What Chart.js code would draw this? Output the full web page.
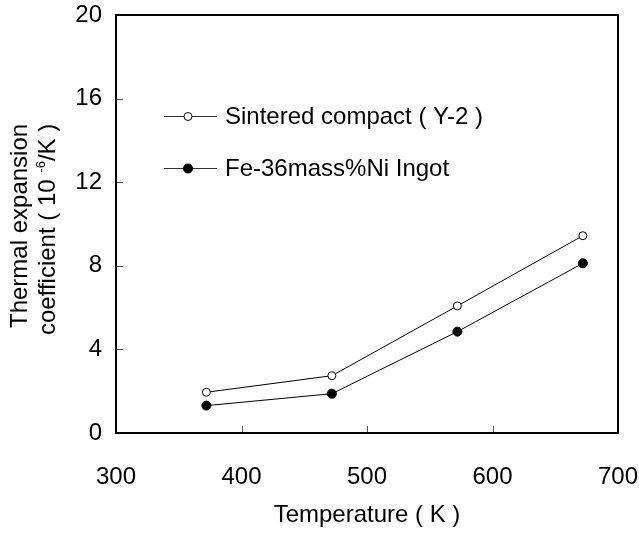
<!DOCTYPE html>
<html>
<head>
<meta charset="utf-8">
<script src="https://cdn.jsdelivr.net/npm/chart.js@4/dist/chart.umd.min.js"></script>
<style>
    html, body { margin: 0; padding: 0; background: #fff; }
    #chart_wrap { width: 639px; height: 533px; position: relative; }
</style>
</head>
<body>
<div id="chart_wrap"><canvas id="expansion_chart_area"></canvas></div>
<script>
"use strict"
// values
var temperatures = [372, 472, 572, 672];
var sinteredValues = [1.95, 2.74, 6.08, 9.44];
var ingotValues = [1.31, 1.88, 4.85, 8.12];
var seriesLabels = ["Sintered compact ( Y-2 )", "Fe-36mass%Ni Ingot"];
var xTicks = [300, 400, 500, 600, 700];
var yTicks = [0, 4, 8, 12, 16, 20];
var xTitle = "Temperature ( K )";
var yTitleFirst = "Thermal expansion";
var yTitleSecond = ["coefficient ( 10 ", "-6", "/K )"];

var FONT = "'Liberation Sans', Arial, sans-serif";
var FONT_SIZE = 24;

function toPoints(values){
    return values.map(function(v, i){ return {x: temperatures[i], y: v}; });
}

// keep the plot box where the layout padding puts it
function noScalePadding(scale){
    scale.paddingTop = 0;
    scale.paddingBottom = 0;
    scale.paddingLeft = 0;
    scale.paddingRight = 0;
}

var frameAndLabels = {
    id: 'frameAndLabels',
    afterDraw: function(chart){
        var ctx = chart.ctx;
        var area = chart.chartArea;
        var xs = chart.scales.x, ys = chart.scales.y;
        ctx.save();

        // inward tick marks
        ctx.strokeStyle = "#555";
        ctx.lineWidth = 1;
        ctx.beginPath();
        xTicks.slice(1, -1).forEach(function(t){
            var px = Math.round(xs.getPixelForValue(t)) + 0.5;
            ctx.moveTo(px, area.bottom);
            ctx.lineTo(px, area.bottom - 7);
        });
        yTicks.slice(1, -1).forEach(function(t){
            var py = Math.round(ys.getPixelForValue(t)) + 0.5;
            ctx.moveTo(area.left, py);
            ctx.lineTo(area.left + 7, py);
        });
        ctx.stroke();

        // plot frame
        ctx.strokeStyle = "#000";
        ctx.lineWidth = 2;
        ctx.strokeRect(area.left, area.top, area.right - area.left, area.bottom - area.top);

        // legend inside the plot
        var rows = [area.top + 101, area.top + 153];
        ctx.font = FONT_SIZE + "px " + FONT;
        ctx.textBaseline = "middle";
        ctx.textAlign = "left";
        chart.data.datasets.forEach(function(ds, i){
            var y = rows[i] + 0.5;
            ctx.strokeStyle = "#333";
            ctx.lineWidth = 1;
            ctx.beginPath();
            ctx.moveTo(area.left + 48, y);
            ctx.lineTo(area.left + 101, y);
            ctx.stroke();
            ctx.beginPath();
            ctx.arc(area.left + 72, y, ds.pointRadius, 0, Math.PI * 2);
            ctx.fillStyle = ds.pointBackgroundColor;
            ctx.fill();
            ctx.strokeStyle = ds.pointBorderColor;
            ctx.stroke();
            ctx.fillStyle = "#000";
            ctx.fillText(ds.label, area.left + 109, y + 1);
        });

        // y axis title, two lines, rotated
        ctx.fillStyle = "#000";
        ctx.save();
        ctx.translate(20, 328);
        ctx.rotate(-Math.PI / 2);
        ctx.font = FONT_SIZE + "px " + FONT;
        ctx.fillText(yTitleFirst, 0, 0);
        ctx.restore();

        ctx.save();
        ctx.translate(48, 335);
        ctx.rotate(-Math.PI / 2);
        ctx.font = FONT_SIZE + "px " + FONT;
        var w = ctx.measureText(yTitleSecond[0]).width;
        ctx.fillText(yTitleSecond[0], 0, 0);
        ctx.font = "13px " + FONT;
        ctx.fillText(yTitleSecond[1], w, -7);
        w += ctx.measureText(yTitleSecond[1]).width;
        ctx.font = FONT_SIZE + "px " + FONT;
        ctx.fillText(yTitleSecond[2], w, 0);
        ctx.restore();

        ctx.restore();
    }
};

var expansionChart = new Chart(document.getElementById("expansion_chart_area"), {
    type: 'scatter',
    data: {
        datasets: [
            {
                label: seriesLabels[0],
                data: toPoints(sinteredValues),
                showLine: true,
                borderColor: "#000",
                borderWidth: 1,
                pointRadius: 4,
                pointBorderWidth: 1,
                pointBorderColor: "#000",
                pointBackgroundColor: "#fff",
                pointHoverRadius: 4
            },
            {
                label: seriesLabels[1],
                data: toPoints(ingotValues),
                showLine: true,
                borderColor: "#000",
                borderWidth: 1,
                pointRadius: 4.5,
                pointBorderWidth: 1,
                pointBorderColor: "#000",
                pointBackgroundColor: "#000",
                pointHoverRadius: 4.5
            }
        ]
    },
    options: {
        responsive: true,
        maintainAspectRatio: false,
        animation: false,
        layout: { padding: { top: 15, right: 21, left: 0, bottom: 0 } },
        plugins: {
            legend: { display: false },
            tooltip: { enabled: false }
        },
        scales: {
            x: {
                type: 'linear',
                min: 300,
                max: 700,
                afterBuildTicks: function(scale){
                    scale.ticks = xTicks.map(function(v){ return {value: v}; });
                },
                afterFit: function(scale){
                    scale.height = 100;
                    noScalePadding(scale);
                },
                grid: { display: false, drawTicks: false },
                border: { display: false },
                ticks: {
                    padding: 30,
                    color: "#000",
                    font: { family: FONT, size: FONT_SIZE },
                    maxRotation: 0
                },
                title: {
                    display: true,
                    text: xTitle,
                    color: "#000",
                    font: { family: FONT, size: FONT_SIZE },
                    padding: { top: 0, bottom: 3 }
                }
            },
            y: {
                min: 0,
                max: 20,
                afterBuildTicks: function(scale){
                    scale.ticks = yTicks.map(function(v){ return {value: v}; });
                },
                afterFit: function(scale){
                    scale.width = 116;
                    noScalePadding(scale);
                },
                grid: { display: false, drawTicks: false },
                border: { display: false },
                ticks: {
                    padding: 14,
                    color: "#000",
                    font: { family: FONT, size: FONT_SIZE }
                }
            }
        }
    },
    plugins: [frameAndLabels]
});
</script>
</body>
</html>
